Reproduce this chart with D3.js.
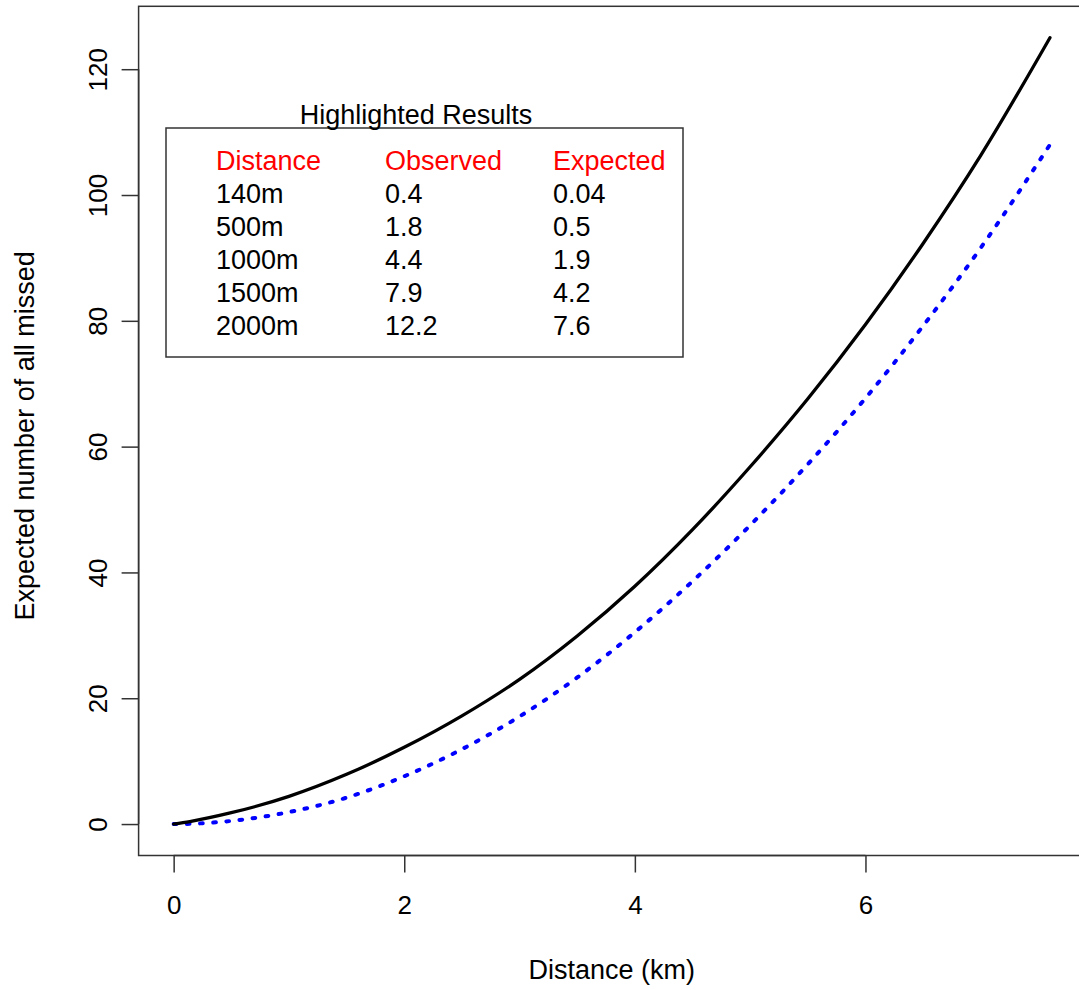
<!DOCTYPE html>
<html>
<head>
<meta charset="utf-8">
<script src="https://cdn.jsdelivr.net/npm/d3@7"></script>
<style>
  html, body { margin: 0; padding: 0; background: #fff; }
  svg { display: block; font-family: "Liberation Sans", Arial, sans-serif; }
</style>
</head>
<body>
<svg id="chart" width="1079" height="990"></svg>
<script>
// ---- data ----
const distanceKm = [0, 0.14, 0.5, 1, 1.5, 2, 2.5, 3, 3.5, 4, 4.5, 5, 5.5, 6, 6.5, 7, 7.6];
const observedSeries = [0, 0.4, 1.8, 4.4, 7.9, 12.2, 17.2, 23.0, 29.9, 37.8, 46.8, 56.8, 67.6, 79.4, 92.3, 106.3, 125];
const expectedSeries = [0, 0.04, 0.5, 1.9, 4.2, 7.6, 11.9, 17.1, 23.3, 30.5, 38.6, 47.5, 57.2, 67.7, 79.2, 91.6, 108];
const xTicks = [0, 2, 4, 6];
const yTicks = [0, 20, 40, 60, 80, 100, 120];
const tableTitle = "Highlighted Results";
const tableHeader = ["Distance", "Observed", "Expected"];
const tableDistance = ["140m", "500m", "1000m", "1500m", "2000m"];
const tableObserved = ["0.4", "1.8", "4.4", "7.9", "12.2"];
const tableExpected = ["0.04", "0.5", "1.9", "4.2", "7.6"];

// ---- layout ----
const svg = d3.select("#chart");
const plot = { left: 138.6, right: 1085, top: 6.3, bottom: 855.5 };
const FS = 27;

const x = d3.scaleLinear().domain([-0.304, 7.904]).range([plot.left, plot.right]);
const y = d3.scaleLinear().domain([-5, 130]).range([plot.bottom, plot.top]);

// box
svg.append("rect")
  .attr("x", plot.left).attr("y", plot.top)
  .attr("width", plot.right - plot.left).attr("height", plot.bottom - plot.top)
  .attr("fill", "none").attr("stroke", "#333").attr("stroke-width", 1.5);

// x axis
const xAxis = d3.axisBottom(x).tickValues(xTicks).tickSize(17).tickPadding(23).tickSizeOuter(0)
  .tickFormat(d3.format("d"));
const gx = svg.append("g").attr("transform", `translate(0,${plot.bottom})`).call(xAxis);
gx.select(".domain").attr("d", `M${x(0)},0H${x(6)}`).attr("stroke", "#333").attr("stroke-width", 1.5);
gx.selectAll(".tick line").attr("stroke", "#333").attr("stroke-width", 1.5);
gx.selectAll(".tick text").attr("font-size", 26).attr("fill", "#000")
  .attr("font-family", "Liberation Sans, Arial, sans-serif");

// y axis
const yAxis = d3.axisLeft(y).tickValues(yTicks).tickSize(17).tickSizeOuter(0).tickFormat(d3.format("d"));
const gy = svg.append("g").attr("transform", `translate(${plot.left},0)`).call(yAxis);
gy.select(".domain").attr("d", `M0,${y(0)}V${y(120)}`).attr("stroke", "#333").attr("stroke-width", 1.5);
gy.selectAll(".tick line").attr("stroke", "#333").attr("stroke-width", 1.5);
gy.selectAll(".tick text")
  .attr("font-size", 26).attr("fill", "#000")
  .attr("font-family", "Liberation Sans, Arial, sans-serif")
  .attr("text-anchor", "middle")
  .attr("dy", null)
  .attr("x", null)
  .attr("transform", "translate(-32,0) rotate(-90)")
  .attr("y", 0);

// axis titles
svg.append("text")
  .attr("x", (plot.left + plot.right) / 2).attr("y", 979)
  .attr("text-anchor", "middle").attr("font-size", FS).attr("fill", "#000")
  .text("Distance (km)");
svg.append("text")
  .attr("transform", `translate(34,${(plot.top + plot.bottom) / 2 + 5}) rotate(-90)`)
  .attr("text-anchor", "middle").attr("font-size", FS).attr("fill", "#000")
  .text("Expected number of all missed");

// lines
const line = d3.line().x((d, i) => x(distanceKm[i])).y(d => y(d)).curve(d3.curveMonotoneX);

svg.append("path").datum(expectedSeries)
  .attr("d", line).attr("fill", "none").attr("stroke", "#0000ff")
  .attr("stroke-width", 4).attr("stroke-linecap", "round")
  .attr("stroke-dasharray", "2.7,10.5");

svg.append("path").datum(observedSeries)
  .attr("d", line).attr("fill", "none").attr("stroke", "#000")
  .attr("stroke-width", 3.3).attr("stroke-linecap", "round");

// table legend
const tbl = { left: 166, top: 128, right: 683, bottom: 357 };
svg.append("rect")
  .attr("x", tbl.left).attr("y", tbl.top)
  .attr("width", tbl.right - tbl.left).attr("height", tbl.bottom - tbl.top)
  .attr("fill", "#fff").attr("stroke", "#333").attr("stroke-width", 1.5);

svg.append("text").attr("x", 416).attr("y", 124).attr("text-anchor", "middle")
  .attr("font-size", FS).attr("fill", "#000").text(tableTitle);

const colX = [216, 385, 553];
const rowY0 = 170, rowStep = 33;
tableHeader.forEach((h, i) => {
  svg.append("text").attr("x", colX[i]).attr("y", rowY0).attr("font-size", FS)
    .attr("fill", "#ff0000").text(h);
});
[tableDistance, tableObserved, tableExpected].forEach((col, ci) => {
  col.forEach((v, ri) => {
    svg.append("text").attr("x", colX[ci]).attr("y", rowY0 + rowStep * (ri + 1))
      .attr("font-size", FS).attr("fill", "#000").text(v);
  });
});
</script>
</body>
</html>
